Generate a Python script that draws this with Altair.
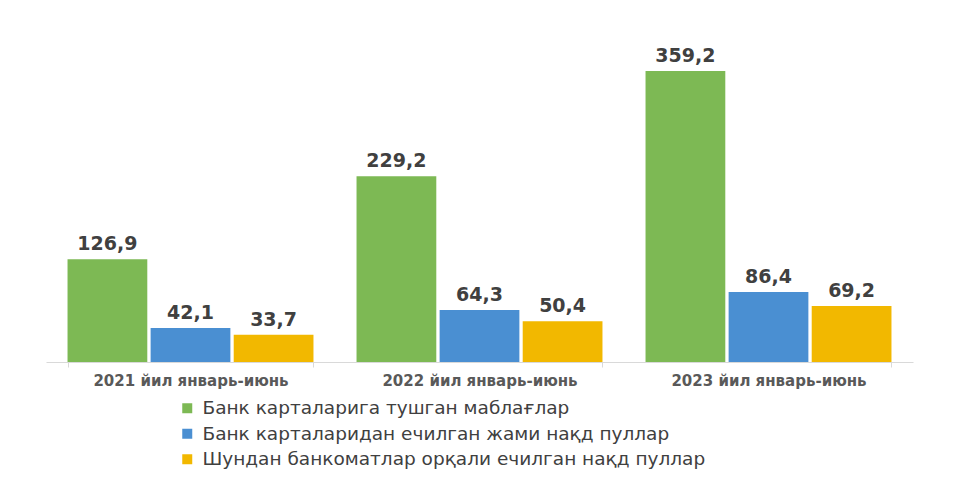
import altair as alt
import pandas as pd

categories = ["2021 йил январь-июнь", "2022 йил январь-июнь", "2023 йил январь-июнь"]
series = [
    "Банк карталарига тушган маблағлар",
    "Банк карталаридан ечилган жами нақд пуллар",
    "Шундан банкоматлар орқали ечилган нақд пуллар",
]
green_vals = [126.9, 229.2, 359.2]
blue_vals = [42.1, 64.3, 86.4]
yellow_vals = [33.7, 50.4, 69.2]
colors = ["#7DB954", "#4A8FD2", "#F2B800"]

rows = []
for s_i, (name, vals) in enumerate(zip(series, [green_vals, blue_vals, yellow_vals])):
    for c, v in zip(categories, vals):
        rows.append({"cat": c, "series": name, "order": s_i, "value": v,
                     "label": f"{v:.1f}".replace(".", ",")})
df = pd.DataFrame(rows)

FONT = "DejaVu Sans"

x = alt.X("cat:N", sort=categories, title=None,
          scale=alt.Scale(paddingInner=0.149, paddingOuter=0.0745),
          axis=alt.Axis(labelFont=FONT, labelFontSize=15, labelFontWeight="bold",
                        labelColor="#595959", labelPadding=6, labelAngle=0,
                        domainColor="#D9D9D9", tickColor="#D9D9D9", tickSize=5,
                        tickBand="extent", labelLimit=400))
xo = alt.XOffset("series:N", sort=series, scale=alt.Scale(paddingInner=0.04))
y = alt.Y("value:Q", scale=alt.Scale(domain=[0, 422], nice=False), axis=None)

base = alt.Chart(df)
bars = base.mark_bar().encode(
    x=x, xOffset=xo, y=y,
    color=alt.Color("series:N", sort=series,
                    scale=alt.Scale(domain=series, range=colors),
                    legend=alt.Legend(title=None, orient="none", legendX=132, legendY=379,
                                      symbolType="square", symbolSize=100,
                                      labelFont=FONT, labelFontSize=18.5, labelColor="#404040",
                                      labelLimit=800, rowPadding=6.5, labelOffset=6,
                                      symbolStrokeWidth=0)),
)
text = base.mark_text(font=FONT, fontSize=19, fontWeight="bold", color="#404040",
                      baseline="alphabetic", dy=-9).encode(
    x=x, xOffset=xo, y=y, text="label:N")

chart = (bars + text).properties(
    width=867, height=342,
    padding={"left": 46, "top": 20, "right": 65, "bottom": 123},
    autosize=alt.AutoSizeParams(type="none"),
    background="white",
).configure_view(stroke=None, strokeWidth=0)

chart.save("out.html", embed_options={"renderer": "svg", "actions": False})
